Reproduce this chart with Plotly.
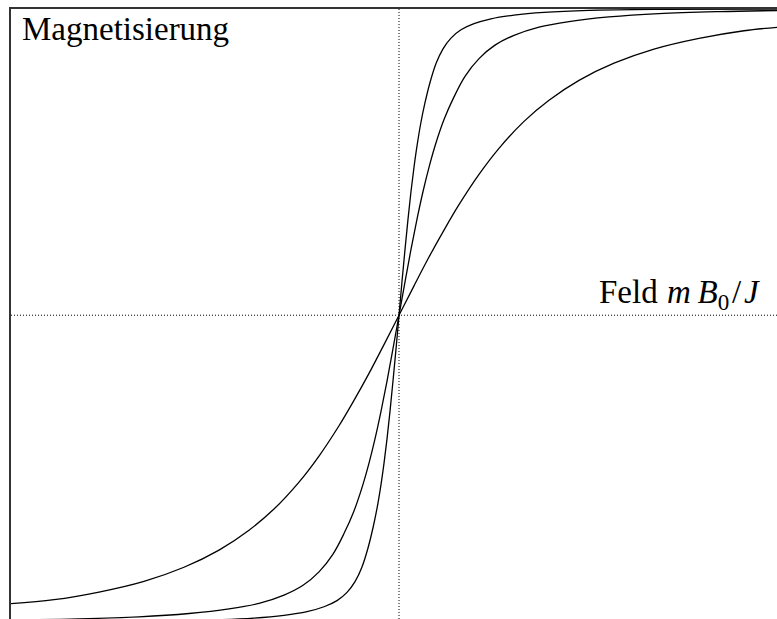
import plotly.graph_objects as go

# Magnetisation curves at three temperatures (values in units of saturation).
# Field axis in units of m*B0/J.
field_a = [-10.0, -9.742, -6.701, -4.897, -3.737, -2.964, -2.371, -1.933, -1.598, -1.340,
           -1.134, -0.954, -0.799, -0.670, -0.567, -0.464, -0.387, -0.309, -0.232, -0.155,
           -0.077, 0.0,
           0.077, 0.155, 0.232, 0.309, 0.387, 0.464, 0.567, 0.670, 0.799, 0.954,
           1.134, 1.340, 1.598, 1.933, 2.371, 2.964, 3.737, 4.897, 6.701, 9.742]
magn_a = [-0.9998, -0.9998, -0.9987, -0.9955, -0.989, -0.980, -0.968, -0.952, -0.932, -0.905,
          -0.870, -0.822, -0.760, -0.694, -0.631, -0.553, -0.484, -0.404, -0.314, -0.215,
          -0.110, 0.0,
          0.110, 0.215, 0.314, 0.404, 0.484, 0.553, 0.631, 0.694, 0.760, 0.822,
          0.870, 0.905, 0.932, 0.952, 0.968, 0.980, 0.989, 0.9955, 0.9987, 0.9998]

field_b = [-10.0, -8.247, -6.701, -5.412, -4.381, -3.608, -2.964, -2.474, -2.062, -1.701,
           -1.418, -1.160, -0.954, -0.773, -0.619, -0.464, -0.309, -0.155, 0.0,
           0.155, 0.309, 0.464, 0.619, 0.773, 0.954, 1.160, 1.418, 1.701, 2.062,
           2.474, 2.964, 3.608, 4.381, 5.412, 6.701, 8.247, 9.742]
magn_b = [-0.9954, -0.9915, -0.985, -0.974, -0.959, -0.941, -0.914, -0.882, -0.838, -0.780,
          -0.713, -0.639, -0.563, -0.483, -0.404, -0.314, -0.215, -0.109, 0.0,
          0.109, 0.215, 0.314, 0.404, 0.483, 0.563, 0.639, 0.713, 0.780, 0.838,
          0.882, 0.914, 0.941, 0.959, 0.974, 0.985, 0.9915, 0.995]

field_c = [-10.0, -8.892, -7.732, -6.572, -5.541, -4.639, -3.866, -3.222, -2.577, -2.062,
           -1.546, -1.160, -0.773, -0.387, 0.0,
           0.387, 0.773, 1.160, 1.546, 2.062, 2.577, 3.222, 3.866, 4.639, 5.541,
           6.572, 7.732, 8.892, 9.742]
magn_c = [-0.942, -0.929, -0.904, -0.869, -0.823, -0.767, -0.702, -0.633, -0.545, -0.460,
          -0.361, -0.278, -0.190, -0.096, 0.0,
          0.096, 0.190, 0.278, 0.361, 0.460, 0.545, 0.633, 0.702, 0.767, 0.823,
          0.869, 0.904, 0.929, 0.940]

curves = [(field_a, magn_a), (field_b, magn_b), (field_c, magn_c)]

x_range = [-10.0, 9.742]
y_range = [-0.992, 1.0]

fig = go.Figure()
for fx, my in curves:
    fig.add_trace(go.Scatter(
        x=fx, y=my, mode="lines",
        line=dict(color="black", width=1.3, shape="spline", smoothing=1.0),
        hoverinfo="skip", showlegend=False,
    ))

# dotted coordinate axes through the origin
fig.add_shape(type="line", xref="x", yref="paper", x0=0, x1=0, y0=0, y1=1,
              line=dict(color="black", width=1, dash="1px,2px"), layer="below")
fig.add_shape(type="line", xref="paper", yref="y", x0=0, x1=1, y0=0, y1=0,
              line=dict(color="black", width=1, dash="1px,2px"), layer="below")

serif = "Liberation Serif, Times New Roman, serif"
fig.add_annotation(text="Magnetisierung", xref="paper", yref="paper",
                   x=0.012, y=1.0, xanchor="left", yanchor="top",
                   showarrow=False, font=dict(family=serif, size=33, color="black"))
fig.add_annotation(text="Feld\u2009\u200a<i>m</i>\u2009<i>B</i><sub>0</sub>\u200a/\u200a<i>J</i>",
                   xref="paper", yref="y",
                   x=0.98, y=-0.007, xanchor="right", yanchor="bottom",
                   showarrow=False, font=dict(family=serif, size=33, color="black"))

fig.update_layout(
    width=777, height=619,
    margin=dict(l=11, r=0, t=9, b=0),
    paper_bgcolor="white", plot_bgcolor="white",
    xaxis=dict(range=x_range, side="top", showline=True, linecolor="#333", linewidth=1.5,
               showgrid=False, zeroline=False, showticklabels=False, ticks=""),
    yaxis=dict(range=y_range, showline=True, linecolor="#333", linewidth=1.5,
               showgrid=False, zeroline=False, showticklabels=False, ticks=""),
)

fig.write_html("out.html")
